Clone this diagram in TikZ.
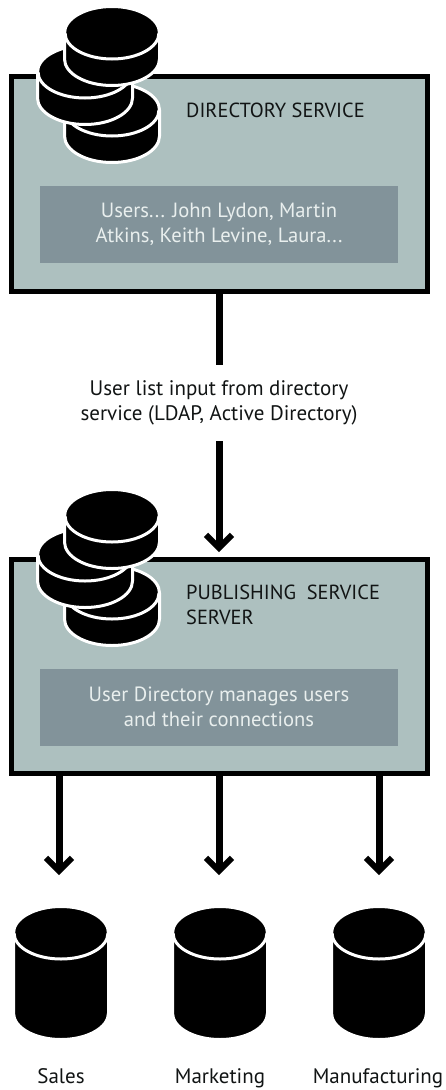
\documentclass[tikz,border=0pt]{standalone}
\usepackage{fontspec}
\setmainfont{PT Sans}
\usetikzlibrary{arrows.meta}
\definecolor{boxfill}{HTML}{ADC0BF}
\definecolor{panelfill}{HTML}{82939A}
\definecolor{paneltext}{HTML}{E9EFEE}
\definecolor{ink}{HTML}{111414}
\newcommand{\dbshape}[4]{% cx, cy, body height, name
  \path[fill=black,draw=white,line width=3pt]
    (#1-47.5,#2) arc[start angle=180,end angle=360,x radius=47.5,y radius=26.5]
    -- (#1+47.5,#2+#3) arc[start angle=0,end angle=180,x radius=47.5,y radius=26.5] -- cycle;
  \draw[white,line width=3pt] (#1-47,#2) arc[start angle=180,end angle=0,x radius=47,y radius=26];
  \coordinate (#4) at (#1,#2);
}
\tikzset{
  x=1pt,y=-1pt,
  frame/.style={draw=black,fill=boxfill,line width=5pt,minimum width=416pt,minimum height=214.5pt,inner sep=0pt,outer sep=2.5pt},
  panel/.style={fill=panelfill,minimum width=358pt,minimum height=77pt,inner sep=0pt,text=paneltext,align=center,font=\fontsize{20.6}{24.8}\selectfont},
  heading/.style={anchor=west,inner sep=0pt,align=left,text=ink,font=\fontsize{20.4}{25}\selectfont},
  caption/.style={inner sep=0pt,align=center,text=ink,font=\fontsize{21}{25}\selectfont},
  wire/.style={draw=black,line width=7pt},
  flow/.style={wire,-{Straight Barb[length=13pt,width=26pt,line width=6pt]}},
}
\begin{document}
\begin{tikzpicture}
\useasboundingbox (0,0) rectangle (445,1090);
% top service
\node[frame] (dirbox) at (219.5,184) {};
\node[panel] (dirpanel) at (219,224.5) {Users... John Lydon, Martin\\Atkins, Keith Levine, Laura...};
\dbshape{112}{110}{26}{d1}
\dbshape{85}{72}{26}{d2}
\dbshape{112}{33}{26}{d3}
\node[heading] (dirtitle) at (186,110.5) {DIRECTORY SERVICE};
% label
\node[caption] (inputlabel) at (219,402.5) {User list input from directory\\service (LDAP, Active Directory)};
% publishing
\node[frame] (pubbox) at (219.5,666.5) {};
\node[panel] (pubpanel) at (219,707) {User Directory manages users\\and their connections};
\dbshape{112}{593}{26}{p1}
\dbshape{85}{555}{26}{p2}
\dbshape{112}{516}{26}{p3}
\node[heading] (pubtitle) at (186,605) {PUBLISHING\ \ SERVICE\\SERVER};
% connectors
\coordinate (stub) at (219,365);
\coordinate (instart) at (219,441);
\coordinate (intip) at (219,552);
\draw[wire] (dirbox.south -| stub) -- (stub);
\draw[flow] (instart) -- (intip);
\coordinate (t1) at (59,875);
\coordinate (t2) at (219,875);
\coordinate (t3) at (379,875);
\draw[flow] (pubbox.south -| t1) -- (t1);
\draw[flow] (pubbox.south -| t2) -- (t2);
\draw[flow] (pubbox.south -| t3) -- (t3);
% bottom databases
\dbshape{61}{933}{80}{c1}
\dbshape{220}{933}{80}{c2}
\dbshape{379}{933}{80}{c3}
\node[caption,anchor=base] (salesl) at (61,1083) {Sales};
\node[caption,anchor=base] (markl) at (220,1083) {Marketing};
\node[caption,anchor=base] (manl) at (378,1083) {Manufacturing};
\end{tikzpicture}
\end{document}
